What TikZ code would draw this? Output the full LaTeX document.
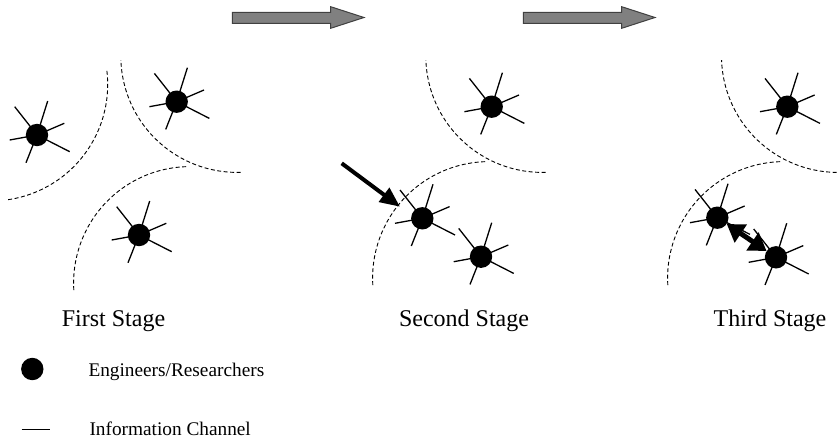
\documentclass[tikz,border=0pt]{standalone}
\usepackage{fontspec}
\setmainfont{Liberation Serif}
\usetikzlibrary{arrows.meta}
\tikzset{
  person/.style={circle,fill=black,draw=none,inner sep=0pt,minimum size=22.4pt},
  spoke/.style={line width=1.3pt,black},
  border/.style={dash pattern=on 4pt off 2.5pt,line width=0.9pt},
  stagelabel/.style={anchor=base,inner sep=0pt,font=\fontsize{24}{28}\selectfont},
  legendtext/.style={anchor=base west,inner sep=0pt,font=\fontsize{19.3}{23}\selectfont},
  blockarrow/.style={fill=gray!100!white,draw=black!75,line width=1pt,line join=miter},
  bigarrow/.style={line width=4pt,-{Triangle[length=20pt,width=17pt]}},
  dblarrow/.style={line width=5pt,{Triangle[length=17pt,width=21pt]}-{Triangle[length=17pt,width=21pt]}}
}
\newcommand{\mkspokes}[1]{%
  \foreach \dx/\dy in {-22.3/-28.3,10.7/-34,27.3/-11.7,32.7/16.7,-11/27.7,-27.3/5}
    \draw[spoke] (#1.center) -- ++(\dx,\dy);}
\newcommand{\dasharc}[4]{% cx, cy, start, end
  \draw[border] plot[domain=#3:#4,samples=60,smooth] ({#1+116.4*cos(\x)},{#2+116.4*sin(\x)});}
\begin{document}
\begin{tikzpicture}[x=1pt,y=-1pt]
\useasboundingbox (0,0) rectangle (837,439);
\clip (0,0) rectangle (837,439);

% block arrows
\draw[blockarrow] (232.3,12.3) -- (330.7,12.3) -- (330.7,6.7) -- (364,17.5) -- (330.7,28.3) -- (330.7,23.3) -- (232.3,23.3) -- cycle;
\draw[blockarrow] (523.3,12.3) -- (621.7,12.3) -- (621.7,6.7) -- (655,17.5) -- (621.7,28.3) -- (621.7,23.3) -- (523.3,23.3) -- cycle;

% stage 1 borders
\dasharc{-8.7}{84.5}{-6.7}{82.7}
\dasharc{237.2}{56}{88.3}{178}
\dasharc{190}{283}{176.5}{268.9}
% stage 2 borders
\dasharc{542.2}{56}{88.3}{178}
\dasharc{489}{278}{176.5}{268.9}
% stage 3 borders
\dasharc{837.9}{56}{90.6}{178}
\dasharc{784}{278}{176.5}{268.9}

% stage 1 persons
\node[person] (a1) at (37,135) {};
\node[person] (b1) at (176.7,101.7) {};
\node[person] (c1) at (139,235) {};
% stage 2 persons
\node[person] (a2) at (491.7,106.7) {};
\node[person] (b2) at (422.3,218.3) {};
\node[person] (c2) at (481,256.7) {};
% stage 3 persons
\node[person] (a3) at (787.3,106.7) {};
\node[person] (b3) at (717.3,217.7) {};
\node[person] (c3) at (776,257.3) {};

\foreach \n in {a1,b1,c1,a2,b2,c2,a3,b3,c3}{\mkspokes{\n}}

% arrows
\coordinate (tail) at (341.7,163.3);
\coordinate (head) at (400,206.7);
\draw[bigarrow] (tail) -- (head);
\draw[dblarrow] (b3) -- (c3);

% labels
\node[stagelabel] (l1) at (113.5,326.7) {First Stage};
\node[stagelabel] (l2) at (464,326.7) {Second Stage};
\node[stagelabel] (l3) at (770,326.7) {Third Stage};

% legend
\node[person] (lp) at (32.3,369) {};
\node[legendtext] (lt1) at (88.3,376) {Engineers/Researchers};
\coordinate (ls) at (21.7,429);
\coordinate (le) at (50,429);
\draw[line width=1pt] (ls) -- (le);
\node[legendtext] (lt2) at (89.3,435.5) {Information Channel};
\end{tikzpicture}
\end{document}
